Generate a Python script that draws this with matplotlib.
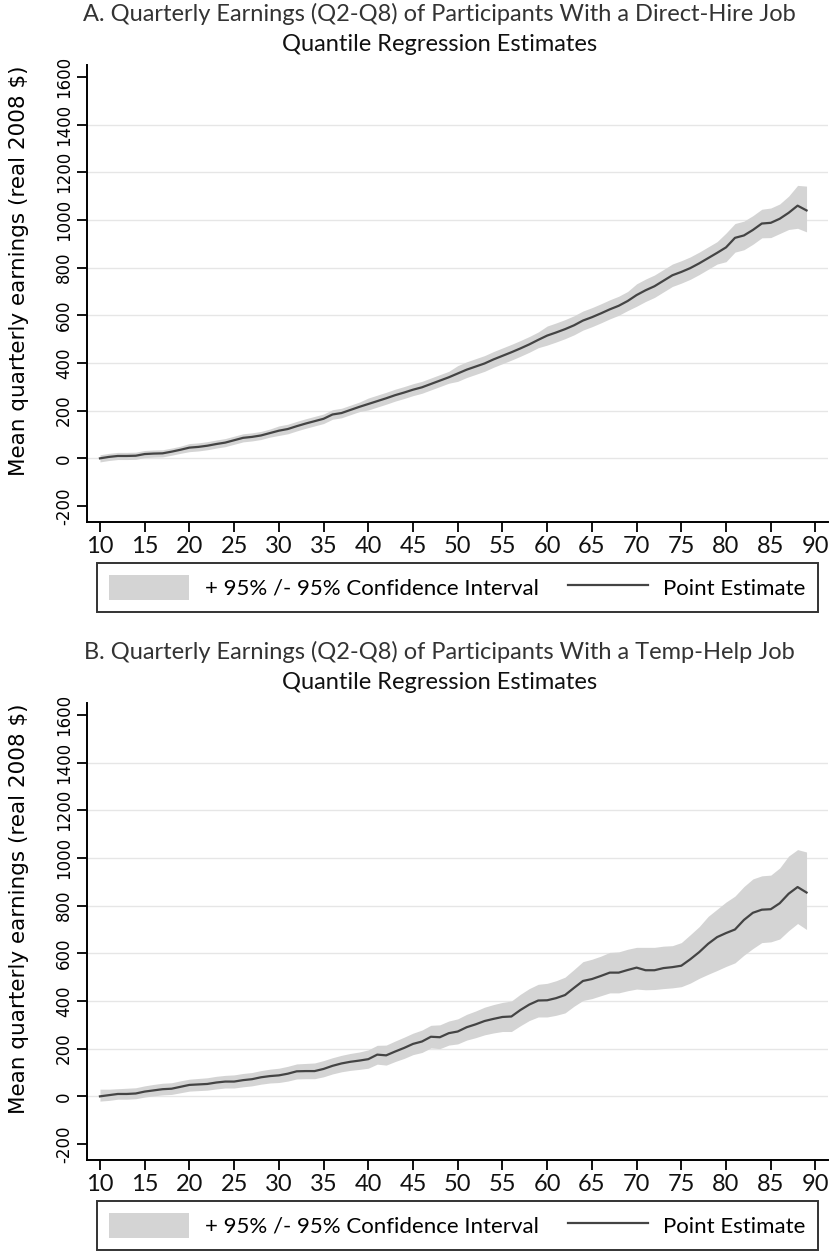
import numpy as np
import matplotlib
matplotlib.use("Agg")
import matplotlib.pyplot as plt
from matplotlib.patches import Patch
from matplotlib.lines import Line2D

plt.rcParams["axes.unicode_minus"] = False

# quantiles 10..89
quantiles = list(range(10, 90))

# Panel A: direct-hire job
est_a = [0, 6, 10, 10, 11, 18, 20, 21, 28, 36,
         45, 48, 53, 60, 66, 76, 86, 90, 96, 106,
         116, 123, 135, 146, 156, 166, 184, 190, 203, 216,
         228, 240, 252, 265, 276, 288, 298, 312, 326, 340,
         356, 372, 385, 398, 415, 430, 445, 461, 478, 497,
         515, 528, 542, 558, 578, 592, 608, 625, 640, 660,
         685, 705, 722, 745, 768, 782, 798, 818, 840, 862,
         885, 925, 935, 958, 985, 988, 1005, 1030, 1060, 1040]
lo_a = [-15, -9, -5, -5, -4, 3, 5, 6, 13, 21,
        28, 31, 36, 43, 49, 59, 69, 73, 79, 89,
        96, 103, 115, 126, 136, 146, 164, 170, 183, 196,
        203, 215, 227, 240, 251, 263, 273, 287, 301, 315,
        323, 339, 352, 365, 382, 397, 412, 428, 445, 464,
        475, 488, 502, 518, 538, 552, 568, 585, 600, 620,
        638, 658, 675, 698, 721, 735, 751, 771, 793, 815,
        825, 865, 875, 898, 925, 926, 943, 960, 965, 950]
hi_a = [15, 21, 25, 25, 26, 33, 35, 36, 43, 51,
        62, 65, 70, 77, 83, 93, 103, 107, 113, 123,
        136, 143, 155, 166, 176, 186, 204, 210, 223, 236,
        253, 265, 277, 290, 301, 313, 323, 337, 351, 365,
        389, 405, 418, 431, 448, 463, 478, 494, 511, 530,
        555, 568, 582, 598, 618, 632, 648, 665, 680, 700,
        732, 752, 769, 792, 815, 829, 845, 865, 887, 909,
        945, 985, 995, 1018, 1045, 1050, 1067, 1100, 1145, 1142]

# Panel B: temp-help job
est_b = [0, 5, 10, 10, 12, 20, 25, 30, 32, 40,
         48, 50, 52, 58, 62, 62, 68, 72, 80, 85,
         88, 95, 105, 106, 106, 115, 128, 138, 145, 150,
         156, 175, 172, 188, 203, 220, 230, 250, 248, 265,
         272, 290, 302, 316, 325, 333, 335, 362, 385, 402,
         403, 412, 425, 455, 484, 492, 505, 519, 519, 530,
         540, 529, 529, 538, 542, 548, 575, 605, 640, 668,
         685, 700, 740, 770, 783, 785, 810, 850, 878, 855]
lo_b = [-20, -17, -12, -12, -10, -3, 2, 6, 8, 15,
        22, 24, 26, 31, 35, 35, 40, 44, 51, 56,
        58, 64, 73, 74, 74, 82, 94, 103, 109, 113,
        118, 135, 131, 146, 159, 175, 184, 203, 200, 215,
        220, 236, 246, 258, 266, 272, 272, 296, 318, 333,
        333, 340, 350, 378, 402, 410, 422, 434, 434, 443,
        450, 447, 448, 452, 455, 460, 475, 495, 512, 528,
        545, 560, 592, 620, 645, 648, 660, 695, 725, 700]
hi_b = [30, 30, 32, 34, 36, 44, 50, 55, 57, 65,
        72, 75, 78, 84, 88, 90, 96, 100, 108, 114,
        118, 126, 136, 138, 140, 150, 162, 172, 180, 186,
        195, 214, 215, 232, 248, 265, 278, 298, 300, 316,
        325, 344, 358, 374, 385, 394, 400, 428, 452, 470,
        474, 485, 500, 532, 565, 575, 588, 604, 606, 617,
        625, 625, 625, 630, 632, 645, 678, 712, 755, 785,
        815, 840, 880, 912, 925, 928, 958, 1008, 1035, 1025]

titles = ["A. Quarterly Earnings (Q2-Q8) of Participants With a Direct-Hire Job",
          "B. Quarterly Earnings (Q2-Q8) of Participants With a Temp-Help Job"]
subtitle = "Quantile Regression Estimates"
ylabel = "Mean quarterly earnings (real 2008 $)"
ci_label = "+ 95% /- 95% Confidence Interval"
pe_label = "Point Estimate"

narrow = "Lato"
band_color = "#d4d4d4"
line_color = "#444444"

fig = plt.figure(figsize=(8.35, 12.59), dpi=100)

W, H = 835, 1259


def draw_panel(top_px, est, lo, hi, title):
    left, right, bottom = 87, 828, top_px + 457
    ax = fig.add_axes([left / W, 1 - bottom / H, (right - left) / W, 457 / H])
    ax.fill_between(quantiles, lo, hi, color=band_color, linewidth=0, zorder=2)
    ax.plot(quantiles, est, color=line_color, linewidth=1.6, zorder=3)

    ax.set_xlim(8.55, 91.4)
    ax.set_ylim(-267, 1650)
    ax.set_xticks(np.arange(10, 91, 5))
    ax.set_yticks(np.arange(-200, 1601, 200))
    for g in range(0, 1401, 200):
        ax.axhline(g, color="#e6e6e6", linewidth=1.0, zorder=1)

    for s in ["top", "right"]:
        ax.spines[s].set_visible(False)
    for s in ["left", "bottom"]:
        ax.spines[s].set_linewidth(1.4)
    ax.tick_params(axis="both", length=7, width=1.3, color="black")
    ax.tick_params(axis="x", pad=3)
    ax.tick_params(axis="y", pad=3)
    for lab in ax.get_xticklabels():
        lab.set_family(narrow)
        lab.set_fontsize(17)
        lab.set_color("#111111")
    for lab in ax.get_yticklabels():
        lab.set_family("DejaVu Sans")
        lab.set_fontsize(12)
        lab.set_rotation(90)
        lab.set_va("center")

    ax.set_ylabel(ylabel, fontsize=15.5, family="DejaVu Sans")
    ax.yaxis.set_label_coords(-0.078, 0.55)

    ax.text(0.476, 1.112, title, transform=ax.transAxes, ha="center", va="center",
            fontsize=17, family=narrow, color="#333333")
    ax.text(0.476, 1.044, subtitle, transform=ax.transAxes, ha="center", va="center",
            fontsize=17, family=narrow, color="#111111")

    handles = [Patch(facecolor=band_color, edgecolor="none"),
               Line2D([], [], color=line_color, linewidth=1.6)]
    leg = ax.legend(handles, [ci_label, pe_label], loc="upper left",
                    bbox_to_anchor=(0.0135, -0.09, 0.973, 0.0), mode="expand",
                    ncol=2, frameon=True, fancybox=False, borderaxespad=0,
                    prop={"family": narrow, "size": 16},
                    handlelength=3.6, handleheight=1.3, handletextpad=0.7,
                    borderpad=0.55, columnspacing=1.5)
    leg.get_frame().set_edgecolor("black")
    leg.get_frame().set_linewidth(1.4)
    return ax


draw_panel(65, est_a, lo_a, hi_a, titles[0])
draw_panel(703, est_b, lo_b, hi_b, titles[1])

fig.savefig("out.png", dpi=100, facecolor="white")
